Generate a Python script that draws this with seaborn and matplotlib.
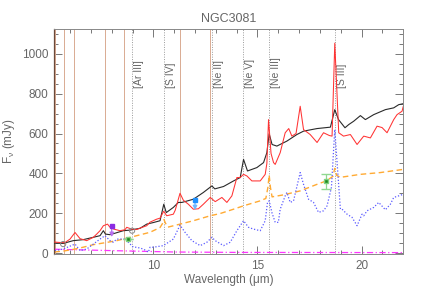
import matplotlib
matplotlib.use("Agg")
import matplotlib.pyplot as plt
import numpy as np
import pandas as pd
import seaborn as sns
from matplotlib.ticker import MultipleLocator

# observed spectrum (black)
obs_wave = [5.25, 5.67, 6.15, 6.63, 7.12, 7.44, 7.6, 7.7, 7.92, 8.56, 8.88, 9.36, 9.68,
            10.0, 10.32, 10.5, 10.62, 10.96, 11.2, 11.37, 11.92, 12.4, 12.81, 12.95,
            13.37, 13.85, 14.17, 14.33, 14.52, 14.97, 15.29, 15.45, 15.56, 15.7, 15.93,
            16.41, 16.89, 17.21, 17.86, 18.5, 18.71, 18.89, 19.2, 19.38, 19.62, 19.94,
            20.18, 20.58, 21.14, 21.54, 21.78, 22.0]
obs_flux = [50, 48, 62, 67, 79, 87, 112, 95, 92, 112, 115, 124, 145,
            153, 162, 245, 203, 229, 254, 254, 270, 304, 337, 322,
            334, 362, 379, 470, 412, 429, 454, 504, 599, 545, 537,
            562, 595, 612, 625, 632, 720, 670, 629, 645, 662, 690,
            670, 695, 720, 729, 745, 750]

# second spectrum (red)
red_wave = [5.25, 5.5, 5.75, 6.0, 6.24, 6.48, 6.8, 7.12, 7.28, 7.44, 7.6, 7.8, 7.92, 8.1,
            8.4, 8.64, 8.72, 8.96, 9.2, 9.36, 9.68, 9.84, 10.16, 10.32, 10.5, 10.64,
            10.96, 11.05, 11.28, 11.44, 11.68, 11.92, 12.16, 12.4, 12.73, 12.97, 13.29,
            13.53, 13.77, 14.01, 14.17, 14.33, 14.49, 14.73, 15.13, 15.37, 15.45, 15.53,
            15.65, 15.77, 15.85, 16.09, 16.33, 16.5, 16.65, 16.85, 17.05, 17.21, 17.53,
            17.86, 18.17, 18.45, 18.58, 18.71, 18.9, 19.13, 19.46, 19.78, 20.1, 20.42,
            20.74, 20.98, 21.22, 21.54, 21.7, 21.94, 22.0]
red_flux = [55, 53, 52, 70, 103, 72, 62, 79, 95, 112, 137, 145, 129, 120,
            112, 117, 129, 120, 118, 125, 137, 155, 170, 175, 210, 187,
            195, 215, 300, 265, 245, 220, 222, 245, 279, 258, 279,
            254, 287, 379, 379, 395, 387, 362, 362, 395, 450, 670,
            500, 454, 445, 504, 604, 625, 587, 600, 737, 620, 595,
            555, 604, 590, 587, 1054, 604, 587, 595, 545, 587, 578,
            637, 630, 604, 670, 695, 712, 737]

# blue dotted component
blue_wave = [5.27, 5.67, 6.24, 6.48, 6.8, 7.12, 7.44, 7.68, 7.92, 8.08, 8.24, 8.72, 8.8,
             8.96, 9.04, 9.2, 9.52, 9.76, 9.84, 10.0, 10.48, 10.96, 11.28, 11.52, 11.85,
             12.25, 12.57, 12.81, 12.97, 13.37, 13.69, 14.01, 14.33, 14.57, 14.81, 15.13,
             15.37, 15.48, 15.56, 15.7, 15.85, 16.0, 16.09, 16.33, 16.41, 16.57, 16.73,
             17.05, 17.21, 17.37, 17.45, 17.69, 17.93, 18.17, 18.34, 18.55, 18.71, 18.9,
             18.98, 19.06, 19.3, 19.54, 19.78, 20.02, 20.1, 20.26, 20.58, 20.82, 21.14,
             21.38, 21.54, 21.78, 22.0]
blue_flux = [12, 20, 45, 12, 20, 45, 70, 87, 62, 54, 70, 70, 54,
             37, 29, 29, 20, 4, 29, 29, 37, 70, 140, 104, 62,
             37, 54, 79, 62, 37, 54, 112, 162, 129, 120, 112,
             162, 254, 262, 200, 154, 154, 220, 287, 304, 254, 262,
             404, 345, 295, 270, 254, 204, 212, 237, 330, 620, 337,
             220, 220, 195, 179, 137, 195, 187, 212, 229, 254, 217,
             245, 279, 287, 295]

# orange dashed component
orange_wave = [5.25, 5.7, 6.24, 6.63, 7.12, 7.7, 8.24, 8.7, 9.2, 9.84, 10.32, 10.45, 10.51,
               10.58, 10.7, 11.28, 11.92, 12.73, 13.2, 13.85, 14.33, 15.13, 15.4, 15.5,
               15.56, 15.62, 15.7, 16.25, 17.05, 17.86, 18.3, 18.62, 18.71, 18.8, 18.98,
               19.94, 20.9, 22.0]
orange_flux = [5, 10, 20, 29, 42, 52, 62, 74, 87, 104, 128, 150, 168,
               150, 130, 145, 162, 187, 198, 220, 237, 262, 274, 330,
               392, 330, 282, 292, 312, 345, 362, 385, 425, 390, 380,
               395, 404, 420]

# magenta dash-dot component
mag_wave = [5.25, 8.0, 11.0, 14.0, 22.0]
mag_flux = [19, 12, 5, 3, 2]

pah_wave = [5.27, 5.7, 6.2, 7.7, 8.6, 11.3, 12.7]
line_wave = [8.99, 10.51, 12.81, 14.32, 15.56, 18.71]
line_names = ["[Ar III]", "[S IV]", "[Ne II]", "[Ne V]", "[Ne III]", "[S III]"]

synth_wave = [5.67, 8.98]
synth_flux = [45, 112]

lim_wave = [8.0, 12.0]
lim_hi = [135, 268]
lim_lo = [80, 215]
lim_colors = ["#8a2be2", "#1e90ff"]
lim_light = ["#b870f0", "#70b8ff"]

phot_wave = [8.8, 18.3]
phot_flux = [70, 360]
phot_err = [0, 38]

sns.set_style("ticks")
plt.rcParams["font.family"] = ["Liberation Sans", "DejaVu Sans"]
plt.rcParams["mathtext.fontset"] = "custom"
plt.rcParams["mathtext.rm"] = "Liberation Sans"
plt.rcParams["mathtext.it"] = "Liberation Sans"
plt.rcParams["mathtext.default"] = "regular"

grey = "#666666"
fig = plt.figure(figsize=(4.36, 2.91), dpi=100)
ax = fig.add_axes([54 / 436, 1 - 254 / 291, 349.3 / 436, 225 / 291])

for w in pah_wave:
    ax.axvline(w, color="#d9ab92", lw=0.7, zorder=1)
for w, name in zip(line_wave, line_names):
    ax.axvline(w, color="#9a9a9a", lw=0.7, ls=(0, (1, 1.5)), zorder=1)
    ax.text(w + 0.33, 830, name, rotation=90, ha="center", va="bottom",
            fontsize=7.5, color=grey)

sns.lineplot(x=mag_wave, y=mag_flux, ax=ax, color="#ff33ff", lw=0.9,
             linestyle=(0, (5, 2, 1, 2)), estimator=None, sort=False, zorder=2)
sns.lineplot(x=orange_wave, y=orange_flux, ax=ax, color="#ffaa33", lw=1.0,
             linestyle=(0, (4, 2.5)), estimator=None, sort=False, zorder=2)
sns.lineplot(x=blue_wave, y=blue_flux, ax=ax, color="#5a5aff", lw=0.9,
             linestyle=(0, (1, 1.5)), estimator=None, sort=False, zorder=2)
sns.lineplot(x=obs_wave, y=obs_flux, ax=ax, color="#2a2a2a", lw=0.8,
             estimator=None, sort=False, zorder=3)
sns.lineplot(x=red_wave, y=red_flux, ax=ax, color="#ff3333", lw=0.75,
             estimator=None, sort=False, zorder=4)

ax.scatter(synth_wave, synth_flux, s=14, facecolors="none", edgecolors="#888888",
           lw=0.7, zorder=5)

for x, hi, lo, c, cl in zip(lim_wave, lim_hi, lim_lo, lim_colors, lim_light):
    ax.annotate("", xy=(x, lo), xytext=(x, hi),
                arrowprops=dict(arrowstyle="-|>", color=cl, lw=1.0,
                                mutation_scale=6, shrinkA=0, shrinkB=0), zorder=6)
    ax.plot(x, hi, marker="s", ms=3.2, color=c, zorder=7)

ax.errorbar(phot_wave, phot_flux, yerr=phot_err, fmt="s", ms=3.2, color="#1f8a1f",
            mec="#80d080", ecolor="#90d890", elinewidth=0.9, capsize=3.5, zorder=7)

ax.set_xlim(5.23, 22.0)
ax.set_ylim(-5, 1125)
ax.xaxis.set_major_locator(MultipleLocator(5))
ax.xaxis.set_minor_locator(MultipleLocator(1))
ax.yaxis.set_major_locator(MultipleLocator(200))
ax.yaxis.set_minor_locator(MultipleLocator(50))
ax.tick_params(which="both", direction="in", top=True, right=True, color="#777777",
               labelsize=8.5, labelcolor=grey, width=0.7)
ax.tick_params(which="major", length=6, pad=4)
ax.tick_params(which="minor", length=3)
for side in ["top", "right", "bottom"]:
    ax.spines[side].set_color("#888888")
    ax.spines[side].set_linewidth(0.7)
ax.spines["left"].set_color("#6b4a3a")
ax.spines["left"].set_linewidth(0.9)

ax.set_title("NGC3081", fontsize=9, color=grey, pad=5)
ax.set_xlabel("Wavelength (μm)", fontsize=8.5, color=grey)
ax.set_ylabel("F$_{\\nu}$ (mJy)", fontsize=8.5, color=grey)
ax.xaxis.set_label_coords(0.5, -0.09)
ax.yaxis.set_label_coords(-0.105, 0.5)

fig.savefig("out.png", dpi=100)
